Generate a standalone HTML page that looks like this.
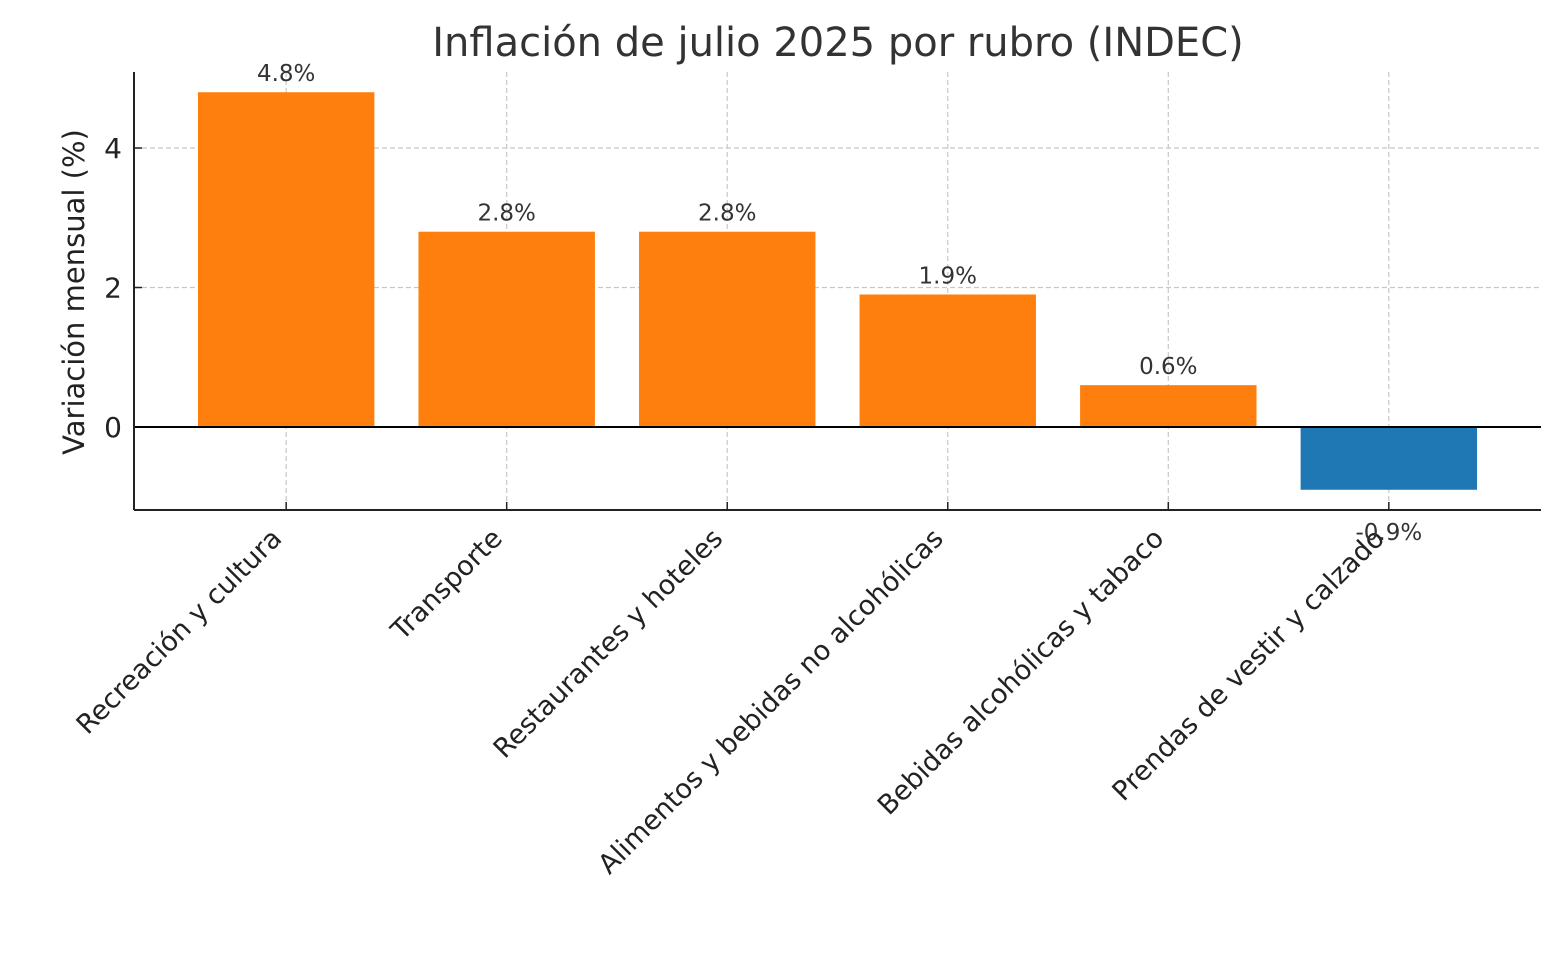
<!DOCTYPE html>
<html><head><meta charset="utf-8"><style>
html,body{margin:0;padding:0;background:#fff;}
svg{display:block;font-family:"DejaVu Sans","Liberation Sans",sans-serif;}
</style></head><body>
<svg id="chart" width="1561" height="979" viewBox="0 0 1561 979">
<text x="838" y="56" font-size="40" fill="#333" text-anchor="middle">Inflación de julio 2025 por rubro (INDEC)</text>
<text transform="translate(84,292) rotate(-90)" font-size="29" fill="#222" text-anchor="middle">Variación mensual (%)</text>
<g id="grid"></g><g id="bars"></g><g id="axes"></g><g id="labels"></g>
</svg>
<script>
const categories = ["Recreación y cultura","Transporte","Restaurantes y hoteles","Alimentos y bebidas no alcohólicas","Bebidas alcohólicas y tabaco","Prendas de vestir y calzado"];
const values = [4.8, 2.8, 2.8, 1.9, 0.6, -0.9];
const valueLabels = ["4.8%","2.8%","2.8%","1.9%","0.6%","-0.9%"];
const yTicks = [0, 2, 4];
const NS = "http://www.w3.org/2000/svg";
const L=134, R=1541, T=72, B=510;
const yMin=-1.19, yMax=5.09;
function y(v){ return B - (v - yMin) / (yMax - yMin) * (B - T); }
const n = categories.length;
const step = (R - L) / (n + 0.38);
function x(i){ return L + step * (0.69 + i); }
const bw = step * 0.8;
function mk(tag, attrs, parent){ const e=document.createElementNS(NS,tag); for(const k in attrs) e.setAttribute(k,attrs[k]); parent.appendChild(e); return e; }
const grid=document.getElementById('grid'), bars=document.getElementById('bars'), axes=document.getElementById('axes'), labels=document.getElementById('labels');
yTicks.forEach(t=>{
  const g = mk('line',{x1:L,x2:R,y1:y(t),y2:y(t),stroke:'#c8c8c8','stroke-width':1.2,'stroke-dasharray':'5,3'},grid);
  
  
  const tk = mk('line',{x1:L,x2:L+8,y1:y(t),y2:y(t),stroke:'#222','stroke-width':1.5},axes);
  
  
  const tl = mk('text',{x:L-12,y:y(t)+10,'font-size':28,fill:'#222','text-anchor':'end'},axes);
  tl.textContent = t;
  
  
});
categories.forEach((c,i)=>{
  const cx=x(i), v=values[i];
  const g = mk('line',{x1:cx,x2:cx,y1:T,y2:B,stroke:'#c8c8c8','stroke-width':1.2,'stroke-dasharray':'5,3'},grid);
  
  
  const top=Math.min(y(v),y(0)), h=Math.abs(y(v)-y(0));
  const r = mk('rect',{x:cx-bw/2,y:top,width:bw,height:h,fill: v>=0?'#ff7f0e':'#1f77b4'},bars);
  
  
  const tk = mk('line',{x1:cx,x2:cx,y1:B,y2:B-8,stroke:'#222','stroke-width':1.5},axes);
  
  
  const vl = mk('text',{x:cx,y: v>=0 ? y(v)-11 : y(v)+50,'font-size':23,fill:'#333','text-anchor':'middle'},labels);
  vl.textContent = valueLabels[i];
  
  
  const xl = mk('text',{transform:'translate('+(cx-3)+',540) rotate(-45)','font-size':27,fill:'#222','text-anchor':'end'},axes);
  xl.textContent = c;
  
  
});
const z = mk('line',{x1:L,x2:R,y1:y(0),y2:y(0),stroke:'#000','stroke-width':2},axes);


const sl = mk('line',{x1:L,x2:L,y1:T,y2:B,stroke:'#222','stroke-width':2},axes);


const sb = mk('line',{x1:L,x2:R,y1:B,y2:B,stroke:'#222','stroke-width':2},axes);


</script>
</body></html>
